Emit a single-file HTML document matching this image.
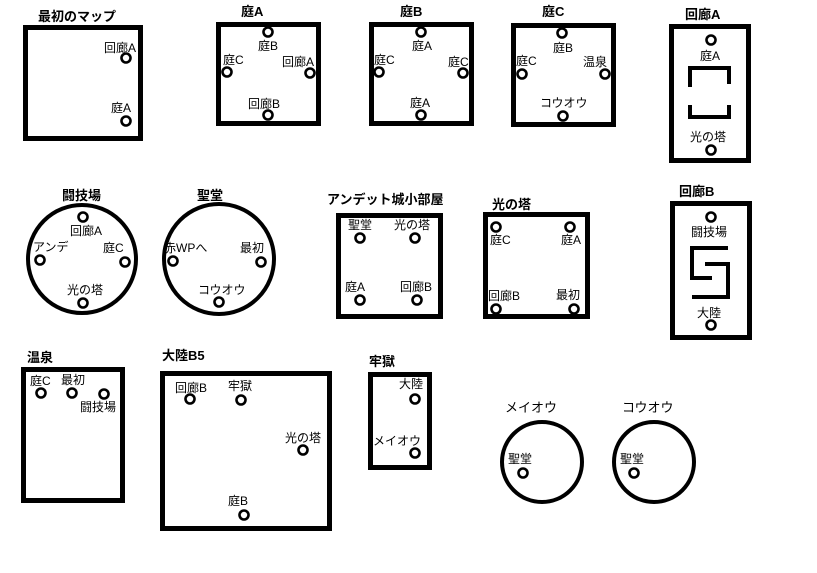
<!DOCTYPE html>
<html><head><meta charset="utf-8"><style>
body{margin:0;background:#fff}
svg{display:block}
text{font-family:"Liberation Sans","Noto Sans CJK JP",sans-serif;font-size:12px;fill:#000}
.t{font-weight:bold;font-size:13px}
.b{fill:none;stroke:#000;stroke-width:5}
.c{fill:#fff;stroke:#000;stroke-width:2.6}
.l{fill:none;stroke:#000;stroke-width:4}
</style></head><body>
<svg width="817" height="573" viewBox="0 0 817 573">
<!-- 最初のマップ -->
<text class="t" x="38" y="21">最初のマップ</text>
<rect class="b" x="25.5" y="27.5" width="115" height="111"/>
<text x="104" y="52">回廊A</text><circle class="c" cx="126" cy="58" r="4.5"/>
<text x="111" y="112">庭A</text><circle class="c" cx="126" cy="121" r="4.5"/>
<!-- 庭A -->
<text class="t" x="241" y="16">庭A</text>
<rect class="b" x="218.5" y="24.5" width="100" height="99"/>
<circle class="c" cx="268" cy="32" r="4.5"/><text x="258" y="50">庭B</text>
<text x="223" y="64">庭C</text><circle class="c" cx="227" cy="72" r="4.5"/>
<text x="282" y="66">回廊A</text><circle class="c" cx="310" cy="73" r="4.5"/>
<text x="248" y="108">回廊B</text><circle class="c" cx="268" cy="115" r="4.5"/>
<!-- 庭B -->
<text class="t" x="400" y="16">庭B</text>
<rect class="b" x="371.5" y="24.5" width="100" height="99"/>
<circle class="c" cx="421" cy="32" r="4.5"/><text x="412" y="50">庭A</text>
<text x="374" y="64">庭C</text><circle class="c" cx="379" cy="72" r="4.5"/>
<text x="448" y="66">庭C</text><circle class="c" cx="463" cy="73" r="4.5"/>
<text x="410" y="107">庭A</text><circle class="c" cx="421" cy="115" r="4.5"/>
<!-- 庭C -->
<text class="t" x="542" y="16">庭C</text>
<rect class="b" x="513.5" y="25.5" width="100" height="99"/>
<circle class="c" cx="562" cy="33" r="4.5"/><text x="553" y="52">庭B</text>
<text x="516" y="65">庭C</text><circle class="c" cx="522" cy="74" r="4.5"/>
<text x="583" y="66">温泉</text><circle class="c" cx="605" cy="74" r="4.5"/>
<text x="540" y="107">コウオウ</text><circle class="c" cx="563" cy="116" r="4.5"/>
<!-- 回廊A -->
<text class="t" x="685" y="19">回廊A</text>
<rect class="b" x="671.5" y="26.5" width="77" height="134"/>
<circle class="c" cx="711" cy="40" r="4.5"/><text x="700" y="60">庭A</text>
<polyline class="l" points="690,87 690,68 729,68 729,84"/>
<polyline class="l" points="690,105 690,117 729,117 729,105"/>
<text x="690" y="141">光の塔</text><circle class="c" cx="711" cy="150" r="4.5"/>
<!-- 闘技場 -->
<text class="t" x="62" y="200">闘技場</text>
<circle class="l" cx="82" cy="259" r="54"/>
<circle class="c" cx="83" cy="217" r="4.5"/><text x="70" y="235">回廊A</text>
<text x="33" y="251">アンデ</text><circle class="c" cx="40" cy="260" r="4.5"/>
<text x="103" y="252">庭C</text><circle class="c" cx="125" cy="262" r="4.5"/>
<text x="67" y="294">光の塔</text><circle class="c" cx="83" cy="303" r="4.5"/>
<!-- 聖堂 -->
<text class="t" x="197" y="200">聖堂</text>
<circle class="l" cx="219" cy="259" r="55"/>
<text x="164" y="252">赤WPへ</text><circle class="c" cx="173" cy="261" r="4.5"/>
<text x="240" y="252">最初</text><circle class="c" cx="261" cy="262" r="4.5"/>
<text x="198" y="294">コウオウ</text><circle class="c" cx="219" cy="302" r="4.5"/>
<!-- アンデット城小部屋 -->
<text class="t" x="327" y="204">アンデット城小部屋</text>
<rect class="b" x="338.5" y="215.5" width="102" height="101"/>
<text x="348" y="229">聖堂</text><circle class="c" cx="360" cy="238" r="4.5"/>
<text x="394" y="229">光の塔</text><circle class="c" cx="415" cy="238" r="4.5"/>
<text x="345" y="291">庭A</text><circle class="c" cx="360" cy="300" r="4.5"/>
<text x="400" y="291">回廊B</text><circle class="c" cx="417" cy="300" r="4.5"/>
<!-- 光の塔 -->
<text class="t" x="492" y="209">光の塔</text>
<rect class="b" x="485.5" y="214.5" width="102" height="102"/>
<circle class="c" cx="496" cy="227" r="4.5"/><text x="490" y="244">庭C</text>
<circle class="c" cx="570" cy="227" r="4.5"/><text x="561" y="244">庭A</text>
<text x="488" y="300">回廊B</text><circle class="c" cx="496" cy="309" r="4.5"/>
<text x="556" y="299">最初</text><circle class="c" cx="574" cy="309" r="4.5"/>
<!-- 回廊B -->
<text class="t" x="679" y="196">回廊B</text>
<rect class="b" x="672.5" y="203.5" width="77" height="134"/>
<circle class="c" cx="711" cy="217" r="4.5"/><text x="691" y="236">闘技場</text>
<polyline class="l" points="728,248 692,248 692,278 712,278"/>
<polyline class="l" points="705,264 728,264 728,297 692,297"/>
<text x="697" y="317">大陸</text><circle class="c" cx="711" cy="325" r="4.5"/>
<!-- 温泉 -->
<text class="t" x="27" y="362">温泉</text>
<rect class="b" x="23.5" y="369.5" width="99" height="131"/>
<text x="30" y="385">庭C</text><circle class="c" cx="41" cy="393" r="4.5"/>
<text x="61" y="384">最初</text><circle class="c" cx="72" cy="393" r="4.5"/>
<circle class="c" cx="104" cy="394" r="4.5"/><text x="80" y="411">闘技場</text>
<!-- 大陸B5 -->
<text class="t" x="162" y="360">大陸B5</text>
<rect class="b" x="162.5" y="373.5" width="167" height="155"/>
<text x="175" y="392">回廊B</text><circle class="c" cx="190" cy="399" r="4.5"/>
<text x="228" y="390">牢獄</text><circle class="c" cx="241" cy="400" r="4.5"/>
<text x="285" y="442">光の塔</text><circle class="c" cx="303" cy="450" r="4.5"/>
<text x="228" y="505">庭B</text><circle class="c" cx="244" cy="515" r="4.5"/>
<!-- 牢獄 -->
<text class="t" x="369" y="366">牢獄</text>
<rect class="b" x="370.5" y="374.5" width="59" height="93"/>
<text x="399" y="388">大陸</text><circle class="c" cx="415" cy="399" r="4.5"/>
<text x="373" y="445">メイオウ</text><circle class="c" cx="415" cy="453" r="4.5"/>
<!-- メイオウ -->
<text class="t" x="505" y="412" style="font-weight:normal">メイオウ</text>
<ellipse class="l" cx="542" cy="462" rx="40" ry="40"/>
<text x="508" y="463">聖堂</text><circle class="c" cx="523" cy="473" r="4.5"/>
<!-- コウオウ -->
<text class="t" x="622" y="412" style="font-weight:normal">コウオウ</text>
<ellipse class="l" cx="654" cy="462" rx="40" ry="40"/>
<text x="620" y="463">聖堂</text><circle class="c" cx="634" cy="473" r="4.5"/>
</svg>
</body></html>
